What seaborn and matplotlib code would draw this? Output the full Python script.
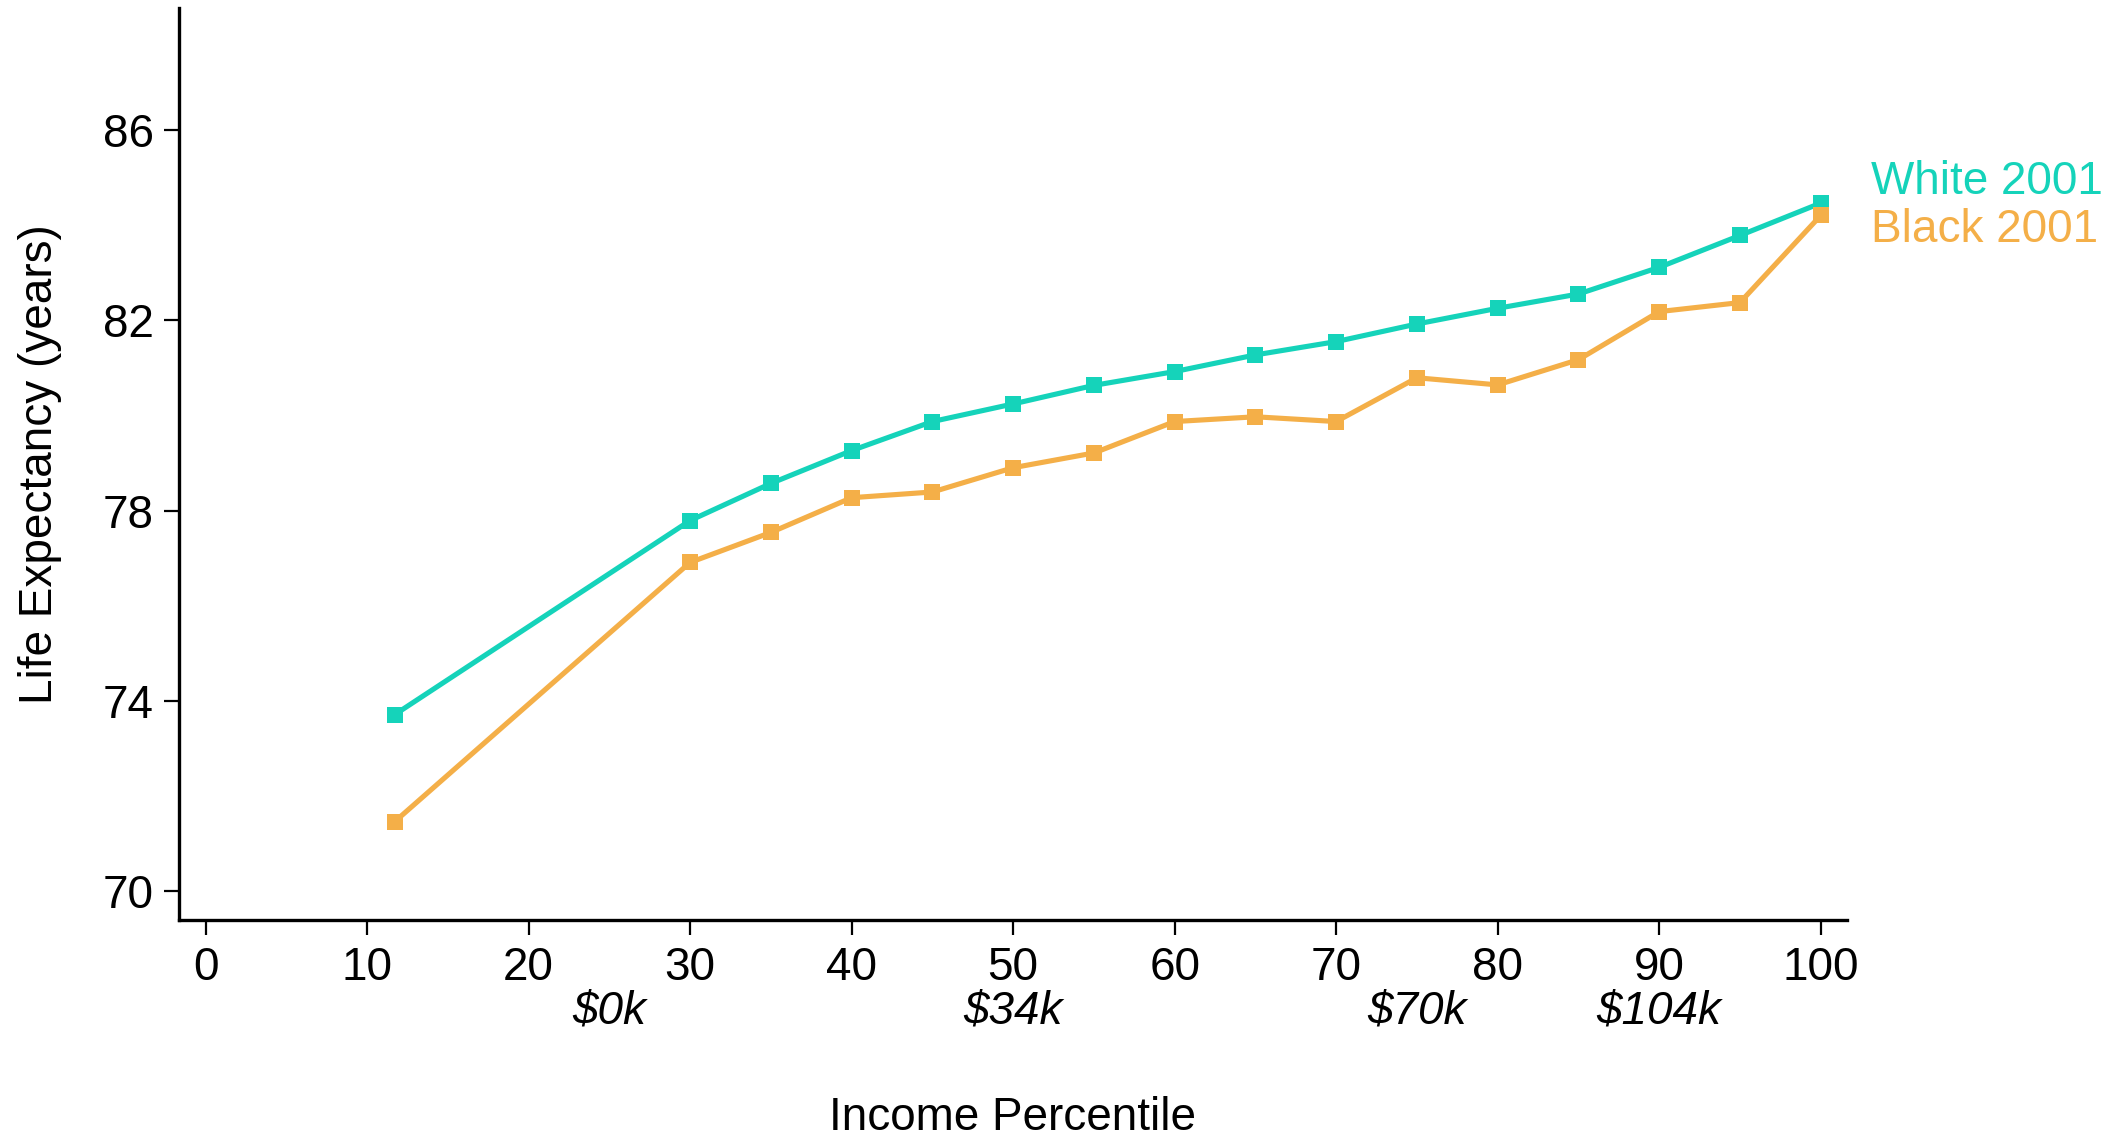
import matplotlib
matplotlib.use("Agg")
import matplotlib.pyplot as plt
import matplotlib.transforms as mtransforms
import numpy as np
import pandas as pd
import seaborn as sns

# Income percentile points and life expectancy by group
percentile = [11.7, 30, 35, 40, 45, 50, 55, 60, 65, 70, 75, 80, 85, 90, 95, 100]
white_2001 = [73.71, 77.79, 78.57, 79.26, 79.87, 80.24, 80.63, 80.92, 81.27,
              81.55, 81.92, 82.25, 82.55, 83.11, 83.78, 84.46]
black_2001 = [71.46, 76.91, 77.54, 78.27, 78.39, 78.90, 79.21, 79.87, 79.97,
              79.87, 80.79, 80.64, 81.17, 82.18, 82.37, 84.20]
series_names = ["White 2001", "Black 2001"]

x_ticks = [0, 10, 20, 30, 40, 50, 60, 70, 80, 90, 100]
y_ticks = [70, 74, 78, 82, 86]
income_pos = [25, 50, 75, 90]
income_labels = ["$0k", "$34k", "$70k", "$104k"]

TEAL = "#15D3BA"
ORANGE = "#F4AF48"
palette = {series_names[0]: TEAL, series_names[1]: ORANGE}

df = pd.DataFrame({
    "Income Percentile": percentile * 2,
    "Life Expectancy": white_2001 + black_2001,
    "Group": [series_names[0]] * len(percentile) + [series_names[1]] * len(percentile),
})

sns.set_theme(style="ticks")
plt.rcParams["font.family"] = ["Liberation Sans", "DejaVu Sans"]
FS = 33

fig = plt.figure(figsize=(21.21, 11.38), dpi=100)
ax = fig.add_axes([0.0842, 0.1917, 0.7864, 0.8013])

sns.lineplot(data=df, x="Income Percentile", y="Life Expectancy", hue="Group",
             hue_order=series_names, palette=palette, marker="s", markersize=11.5,
             markeredgewidth=0, linewidth=3.7, ax=ax, legend=False)

ax.set_xlim(-1.67, 101.6)
ax.set_ylim(69.4, 88.56)
ax.set_xticks(x_ticks)
ax.set_yticks(y_ticks)
ax.set_xticklabels([str(v) for v in x_ticks])
ax.set_yticklabels([str(v) for v in y_ticks])
ax.tick_params(axis="both", labelsize=FS, length=11, width=1.6, color="black",
               labelcolor="black")
ax.tick_params(axis="x", pad=7.5)
ax.tick_params(axis="y", pad=7)

for side in ["top", "right"]:
    ax.spines[side].set_visible(False)
for side in ["left", "bottom"]:
    ax.spines[side].set_linewidth(2.4)
    ax.spines[side].set_color("black")

ax.set_xlabel("Income Percentile", fontsize=FS, color="black")
ax.set_ylabel("Life Expectancy (years)", fontsize=FS, color="black")
ax.xaxis.set_label_coords(0.5, -0.193)
ax.yaxis.set_label_coords(-0.07, 0.5)

# Dollar income markers beneath the percentile axis
trans = mtransforms.blended_transform_factory(ax.transData, ax.transAxes)
for xp, lab in zip(income_pos, income_labels):
    ax.text(xp, -0.114, lab, transform=trans, ha="center", va="baseline",
            fontsize=FS, style="italic", color="black", clip_on=False)

# Direct series labels at the right end
ax.text(103.1, 84.90, series_names[0], color=TEAL, fontsize=FS,
        ha="left", va="center", clip_on=False)
ax.text(103.1, 83.89, series_names[1], color=ORANGE, fontsize=FS,
        ha="left", va="center", clip_on=False)

fig.savefig("out.png", dpi=100)
